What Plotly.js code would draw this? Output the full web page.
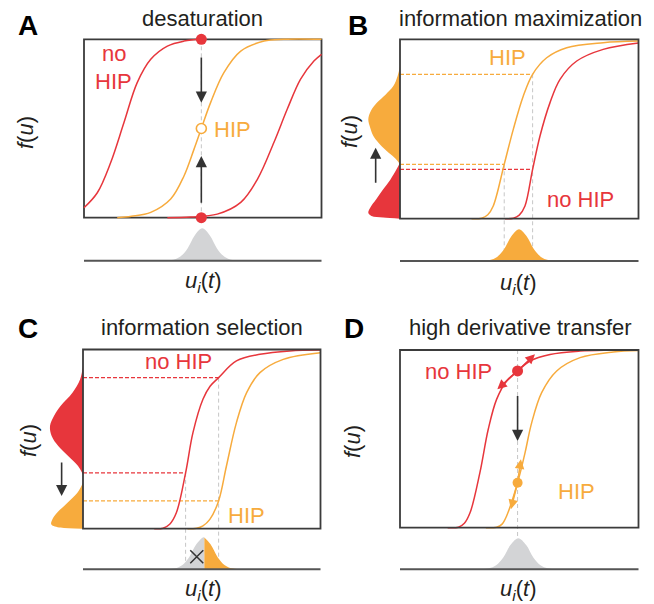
<!DOCTYPE html>
<html><head><meta charset="utf-8">
<script src="https://cdn.plot.ly/plotly-3.0.1.min.js"></script>
<style>html,body{margin:0;padding:0;background:#fff}#chart{width:654px;height:604px}</style>
</head><body><div id="chart"></div>
<script>
// ================= DATA (box units 0..1) =================
// Panel A – desaturation
const A_noHIP1_x = [0, 0.056, 0.112, 0.168, 0.224, 0.281, 0.351, 0.421, 0.494];
const A_noHIP1_y = [0.056, 0.14, 0.308, 0.532, 0.757, 0.888, 0.962, 0.99, 1.0];
const A_HIP_x = [0.14, 0.2, 0.281, 0.365, 0.421, 0.463, 0.494, 0.533, 0.589, 0.66, 0.758, 0.842, 1.0];
const A_HIP_y = [0, 0.008, 0.03, 0.105, 0.234, 0.383, 0.5, 0.645, 0.813, 0.934, 0.99, 1.0, 1.0];
const A_noHIP2_x = [0.351, 0.45, 0.561, 0.66, 0.73, 0.8, 0.856, 0.912, 0.968, 1.0];
const A_noHIP2_y = [0, 0.004, 0.02, 0.086, 0.215, 0.423, 0.609, 0.777, 0.878, 0.916];
const A_point_x = 0.494;
const A_dots_y = [1, 0];
const A_open_y = 0.5;
const A_arrows = [[0.906, 0.645], [0.075, 0.346]];   // [tail y, head y]
const A_in_x = [0.346, 0.376, 0.406, 0.436, 0.466, 0.498, 0.53, 0.56, 0.59, 0.62, 0.65];
const A_in_d = [0, 0.03, 0.13, 0.38, 0.78, 1, 0.78, 0.38, 0.13, 0.03, 0];

// Panel B – information maximization
const B_HIP_x = [0.30, 0.342, 0.368, 0.391, 0.437, 0.475, 0.517, 0.556, 0.615, 0.699, 0.852, 1.0];
const B_HIP_y = [0, 0.003, 0.022, 0.071, 0.303, 0.498, 0.684, 0.805, 0.897, 0.953, 0.981, 0.99];
const B_noHIP_x = [0.44, 0.475, 0.5, 0.524, 0.556, 0.587, 0.629, 0.671, 0.741, 0.852, 1.0];
const B_noHIP_y = [0, 0.003, 0.02, 0.071, 0.275, 0.461, 0.647, 0.777, 0.879, 0.944, 0.98];
const B_dash_y = [0.805, 0.303, 0.275];
const B_dash_x = [0.556, 0.437, 0.556];
const B_dash_series = ['HIP', 'HIP', 'noHIP'];
const B_guide_x = [0.437, 0.556];
const B_guide_top = [0.303, 0.805];
const B_outHIP_y = [0.851, 0.795, 0.739, 0.693, 0.646, 0.6, 0.554, 0.507, 0.461, 0.424, 0.386, 0.349, 0.321, 0.303];
const B_outHIP_d = [0, 0.075, 0.21, 0.45, 0.73, 0.92, 1, 0.94, 0.84, 0.68, 0.47, 0.23, 0.075, 0];
const B_outNo_y = [0.312, 0.275, 0.219, 0.164, 0.108, 0.061, 0.033, 0.015, 0.006, 0];
const B_outNo_d = [0, 0.11, 0.3, 0.53, 0.75, 0.94, 1, 0.9, 0.53, 0];
const B_arrow = {x: -0.102, tail: 0.192, head: 0.396};
const B_in_x = [0.347, 0.377, 0.407, 0.437, 0.467, 0.499, 0.531, 0.561, 0.591, 0.621, 0.655];
const B_in_d = [0, 0.03, 0.13, 0.38, 0.78, 1, 0.78, 0.38, 0.13, 0.03, 0];

// Panel C – information selection
const C_noHIP_x = [0.3, 0.337, 0.365, 0.393, 0.432, 0.463, 0.505, 0.535, 0.571, 0.646, 0.745, 0.871, 1.0];
const C_noHIP_y = [0, 0.003, 0.025, 0.089, 0.312, 0.536, 0.722, 0.795, 0.843, 0.936, 0.973, 0.992, 0.997];
const C_HIP_x = [0.44, 0.478, 0.505, 0.534, 0.571, 0.604, 0.646, 0.689, 0.745, 0.843, 1.0];
const C_HIP_y = [0, 0.003, 0.016, 0.052, 0.155, 0.35, 0.592, 0.759, 0.871, 0.945, 0.982];
const C_dash_y = [0.843, 0.312, 0.155];
const C_dash_x = [0.571, 0.432, 0.571];
const C_dash_series = ['noHIP', 'noHIP', 'HIP'];
const C_guide_x = [0.432, 0.571];
const C_guide_top = [0.312, 0.843];
const C_outNo_y = [0.908, 0.833, 0.759, 0.685, 0.629, 0.573, 0.517, 0.461, 0.405, 0.35, 0.303];
const C_outNo_d = [0, 0.09, 0.32, 0.68, 0.88, 1, 0.95, 0.75, 0.45, 0.15, 0];
const C_outHIP_y = [0.257, 0.201, 0.145, 0.09, 0.052, 0.024, 0.006, 0];
const C_outHIP_d = [0, 0.17, 0.47, 0.78, 0.93, 0.96, 0.68, 0];
const C_arrow = {x: -0.09, tail: 0.378, head: 0.182};
const C_in_x = [0.357, 0.387, 0.417, 0.447, 0.477, 0.507, 0.511, 0.537, 0.567, 0.597, 0.627, 0.657];
const C_in_d = [0, 0.03, 0.13, 0.38, 0.78, 1, 0.99, 0.78, 0.38, 0.13, 0.03, 0];
const C_split = 0.511;
const C_cross = {x: 0.479, d: 0.39};

// Panel D – high derivative transfer
const D_noHIP_x = [0.2, 0.245, 0.27, 0.294, 0.335, 0.37, 0.405, 0.447, 0.493, 0.545, 0.629, 0.755, 0.88, 1.0];
const D_noHIP_y = [0, 0.003, 0.025, 0.085, 0.31, 0.554, 0.722, 0.826, 0.882, 0.938, 0.975, 0.994, 0.999, 1.0];
const D_HIP_x = [0.36, 0.405, 0.428, 0.447, 0.493, 0.524, 0.552, 0.594, 0.657, 0.755, 0.894, 1.0];
const D_HIP_y = [0, 0.003, 0.02, 0.066, 0.253, 0.42, 0.59, 0.76, 0.882, 0.957, 0.989, 0.997];
const D_point_x = 0.493;
const D_point_noHIP = 0.882;
const D_point_HIP = 0.253;
const D_noHIP_heads = [[0.566, 0.976], [0.408, 0.779]];
const D_HIP_heads = [[0.507, 0.385], [0.465, 0.104]];
const D_shift = [0.75, 0.488];
const D_in_x = [0.343, 0.373, 0.403, 0.433, 0.463, 0.496, 0.529, 0.559, 0.589, 0.619, 0.649];
const D_in_d = [0, 0.03, 0.13, 0.38, 0.78, 1, 0.78, 0.38, 0.13, 0.03, 0];

// ================= STYLE / GEOMETRY =================
const W = 654, H = 604;
const FONT = 'Liberation Sans, Arial, Helvetica, sans-serif';
const RED = '#e7363c', ORANGE = '#f7ab3d', GRAYF = '#d3d4d6', GUIDE = '#c6c6c6', DARK = '#3b3b3b', TXT = '#231f20';
const COL = {HIP: ORANGE, noHIP: RED};
// pixel geometry: box [x0,x1,yTop,yBottom], area [x0,x1,yTop,yBottom], baseline, input peak, left-dist width
const G = [
  {box:[84,321.5,39.3,217.7], area:[40,326,34,264], base:260.7, peak:228.3, left:0,   boxLayer:'below'},
  {box:[400,638.5,39.3,218.7], area:[358,642,34,264], base:261, peak:229.3, left:31.7, boxLayer:'above'},
  {box:[83,320.5,349.5,528.7], area:[40,326,344,572], base:569.3, peak:537.3, left:33, boxLayer:'above'},
  {box:[400,638.5,350,527.7], area:[358,642,344,572], base:569.3, peak:538.3, left:0, boxLayer:'above'}
];
const sx = i => (i === 0 ? '' : String(i + 1));
const bw = i => G[i].box[1] - G[i].box[0];
const bh = i => G[i].box[3] - G[i].box[2];
const baseY = i => (G[i].box[3] - G[i].base) / bh(i);

const layout = {
  width: W, height: H, margin: {l:0, r:0, t:0, b:0},
  paper_bgcolor: '#fff', plot_bgcolor: 'rgba(0,0,0,0)', showlegend: false,
  font: {family: FONT, color: TXT}, shapes: [], annotations: []
};
G.forEach((g, i) => {
  const s = sx(i);
  layout['xaxis' + s] = {domain: [g.area[0] / W, g.area[1] / W],
    range: [(g.area[0] - g.box[0]) / bw(i), (g.area[1] - g.box[0]) / bw(i)],
    visible: false, fixedrange: true, anchor: 'y' + s};
  layout['yaxis' + s] = {domain: [1 - g.area[3] / H, 1 - g.area[2] / H],
    range: [(g.box[3] - g.area[3]) / bh(i), (g.box[3] - g.area[2]) / bh(i)],
    visible: false, fixedrange: true, anchor: 'x' + s};
  layout['yaxis' + (i + 5)] = {domain: [1 - g.base / H, 1 - g.box[3] / H],
    range: [0, (g.base - g.box[3]) / (g.base - g.peak)],
    visible: false, fixedrange: true, anchor: 'x' + s};
  layout.shapes.push({type:'rect', xref:'x' + s, yref:'y' + s, x0:0, x1:1, y0:0, y1:1,
    line:{color: DARK, width: 1.8}, layer: g.boxLayer});
  layout.shapes.push({type:'line', xref:'x' + s, yref:'y' + s, x0:0, x1:1, y0:baseY(i), y1:baseY(i),
    line:{color: '#555', width: 2}, layer: 'above'});
});

const traces = [];
function line(i, xs, ys, color, width, dash) {
  traces.push({type:'scatter', mode:'lines', x:xs, y:ys, xaxis:'x' + sx(i), yaxis:'y' + sx(i),
    line:{color, width, dash: dash || 'solid', shape: dash ? 'linear' : 'spline'}, hoverinfo:'skip'});
}
function guide(i, x, top, bottom) {
  line(i, [x, x], [top, bottom === undefined ? baseY(i) : bottom], GUIDE, 1, '4px,3px');
}
function leftDist(i, ys, ds, color) {
  const sc = G[i].left / bw(i);
  traces.push({type:'scatter', mode:'lines', x: ds.map(d => -d * sc), y: ys, fill:'tozerox',
    fillcolor: color, line:{width:0, shape:'spline', color: color}, xaxis:'x' + sx(i), yaxis:'y' + sx(i), hoverinfo:'skip'});
}
function inputDist(i, xs, ds, color) {
  traces.push({type:'scatter', mode:'lines', x: xs, y: ds, fill:'tozeroy', fillcolor: color,
    line:{width:0, shape:'spline', color: color}, xaxis:'x' + sx(i), yaxis:'y' + (i + 5), hoverinfo:'skip'});
}
function dots(i, xs, ys, color, size, open) {
  traces.push({type:'scatter', mode:'markers', x:xs, y:ys, xaxis:'x' + sx(i), yaxis:'y' + sx(i), cliponaxis:false,
    marker:{size, color: open ? '#fff' : color, line:{color, width: open ? 1.6 : 0}}, hoverinfo:'skip'});
}
function arrow(i, head, tail, color, size) {
  const s = sx(i);
  layout.annotations.push({xref:'x' + s, yref:'y' + s, axref:'x' + s, ayref:'y' + s,
    x: head[0], y: head[1], ax: tail[0], ay: tail[1], text:'', showarrow:true,
    arrowhead:2, arrowsize:size, arrowwidth:1.6, arrowcolor:color});
}
function label(i, x, y, text, color) {
  const s = sx(i);
  layout.annotations.push({xref:'x' + s, yref:'y' + s, x, y, text, showarrow:false,
    font:{size:22, color, family: FONT}, xanchor:'center', yanchor:'middle'});
}
function ptext(px, py, text, size, extra) {
  layout.annotations.push(Object.assign({xref:'paper', yref:'paper', x: px / W, y: 1 - py / H, text,
    showarrow:false, font:{size, color: TXT, family: FONT}, xanchor:'center', yanchor:'middle'}, extra || {}));
}

// ---- Panel A ----
guide(0, A_point_x, 1, 0);
line(0, A_noHIP2_x, A_noHIP2_y, RED, 1.5);
line(0, A_noHIP1_x, A_noHIP1_y, RED, 1.5);
line(0, A_HIP_x, A_HIP_y, ORANGE, 1.5);
inputDist(0, A_in_x, A_in_d, GRAYF);
dots(0, [A_point_x, A_point_x], A_dots_y, RED, 11);
dots(0, [A_point_x], [A_open_y], ORANGE, 10, true);
A_arrows.forEach(a => arrow(0, [A_point_x, a[1]], [A_point_x, a[0]], '#333', 1.4));
label(0, 0.126, 0.918, 'no', RED);
label(0, 0.126, 0.766, 'HIP', RED);
label(0, 0.627, 0.495, 'HIP', ORANGE);

// ---- Panel B ----
B_guide_x.forEach((x, k) => guide(1, x, B_guide_top[k]));
leftDist(1, B_outHIP_y, B_outHIP_d, ORANGE);
leftDist(1, B_outNo_y, B_outNo_d, RED);
B_dash_y.forEach((y, k) => line(1, [0, B_dash_x[k]], [y, y], COL[B_dash_series[k]], 1.3, '4px,2px'));
line(1, B_noHIP_x, B_noHIP_y, RED, 1.5);
line(1, B_HIP_x, B_HIP_y, ORANGE, 1.5);
inputDist(1, B_in_x, B_in_d, ORANGE);
arrow(1, [B_arrow.x, B_arrow.head], [B_arrow.x, B_arrow.tail], '#333', 1.4);
label(1, 0.45, 0.897, 'HIP', ORANGE);
label(1, 0.755, 0.108, 'no HIP', RED);

// ---- Panel C ----
C_guide_x.forEach((x, k) => guide(2, x, C_guide_top[k]));
leftDist(2, C_outNo_y, C_outNo_d, RED);
leftDist(2, C_outHIP_y, C_outHIP_d, ORANGE);
C_dash_y.forEach((y, k) => line(2, [0, C_dash_x[k]], [y, y], COL[C_dash_series[k]], 1.3, '4px,2px'));
line(2, C_HIP_x, C_HIP_y, ORANGE, 1.5);
line(2, C_noHIP_x, C_noHIP_y, RED, 1.5);
{
  const gi = C_in_x.map((x, k) => k).filter(k => C_in_x[k] <= C_split);
  const oi = C_in_x.map((x, k) => k).filter(k => C_in_x[k] >= C_split);
  inputDist(2, gi.map(k => C_in_x[k]), gi.map(k => C_in_d[k]), GRAYF);
  inputDist(2, oi.map(k => C_in_x[k]), oi.map(k => C_in_d[k]), ORANGE);
  traces.push({type:'scatter', mode:'markers', x:[C_cross.x], y:[C_cross.d], xaxis:'x3', yaxis:'y7',
    marker:{symbol:'x-thin', size:13, line:{color:'#333', width:1.5}}, hoverinfo:'skip', cliponaxis:false});
}
arrow(2, [C_arrow.x, C_arrow.head], [C_arrow.x, C_arrow.tail], '#333', 1.4);
label(2, 0.4, 0.932, 'no HIP', RED);
label(2, 0.689, 0.071, 'HIP', ORANGE);

// ---- Panel D ----
guide(3, D_point_x, 1);
line(3, D_noHIP_x, D_noHIP_y, RED, 1.5);
line(3, D_HIP_x, D_HIP_y, ORANGE, 1.5);
inputDist(3, D_in_x, D_in_d, GRAYF);
dots(3, [D_point_x], [D_point_noHIP], RED, 11);
dots(3, [D_point_x], [D_point_HIP], ORANGE, 10);
D_noHIP_heads.forEach(h => arrow(3, h, [D_point_x, D_point_noHIP], RED, 1.2));
D_HIP_heads.forEach(h => arrow(3, h, [D_point_x, D_point_HIP], ORANGE, 1.2));
arrow(3, [D_point_x, D_shift[1]], [D_point_x, D_shift[0]], '#333', 1.4);
label(3, 0.245, 0.878, 'no HIP', RED);
label(3, 0.741, 0.206, 'HIP', ORANGE);

// ---- panel letters, titles, axis labels ----
const letters = [['A', 27.5, 25], ['B', 358, 25], ['C', 28, 328], ['D', 354, 328]];
letters.forEach(l => ptext(l[1], l[2], '<b>' + l[0] + '</b>', 28, {font:{size:28, color:'#000', family: FONT}}));
const titles = [['desaturation', 202, 18], ['information maximization', 520, 18],
                ['information selection', 202.5, 327], ['high derivative transfer', 520, 327]];
titles.forEach(t => ptext(t[1], t[2], t[0], 22));
const ylab = [[26, 133], [349, 132], [28, 441], [352, 441]];
ylab.forEach(p => ptext(p[0], p[1], '<i>f</i>(<i>u</i>)', 22, {textangle: -90}));
const xlab = [[203, 282], [518, 284], [203, 590], [518, 590]];
xlab.forEach(p => ptext(p[0], p[1], '<i>u<sub>i</sub></i>(<i>t</i>)', 22));

Plotly.newPlot('chart', traces, layout, {staticPlot: true, displayModeBar: false});
</script>
</body></html>
